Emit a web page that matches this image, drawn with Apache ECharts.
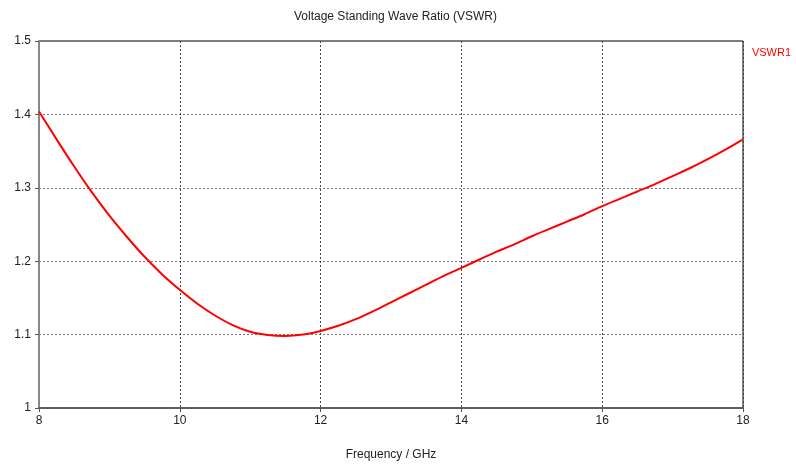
<!DOCTYPE html>
<html>
<head>
<meta charset="utf-8">
<script src="https://cdn.jsdelivr.net/npm/echarts@6/dist/echarts.min.js"></script>
<style>
  html, body { margin: 0; padding: 0; background: #fff; }
  #chart { width: 796px; height: 466px; }
</style>
</head>
<body>
<div id="chart"></div>
<script>
  // frequency points (GHz) and VSWR
  const freq = [8, 8.25, 8.5, 8.75, 9, 9.25, 9.5, 9.75, 10, 10.25, 10.5, 10.75,
    11, 11.25, 11.5, 11.75, 12, 12.25, 12.5, 12.75, 13, 13.25, 13.5, 13.75,
    14, 14.25, 14.5, 14.75, 15, 15.25, 15.5, 15.75, 16, 16.25, 16.5, 16.75,
    17, 17.25, 17.5, 17.75, 18];
  const vswr1 = [1.404, 1.366, 1.329, 1.294, 1.262, 1.233, 1.206, 1.182, 1.161,
    1.142, 1.126, 1.113, 1.104, 1.0995, 1.098, 1.100, 1.105, 1.112, 1.121, 1.132,
    1.144, 1.156, 1.168, 1.180, 1.191, 1.202, 1.213, 1.223, 1.234, 1.244, 1.254,
    1.264, 1.275, 1.285, 1.295, 1.305, 1.316, 1.327, 1.339, 1.352, 1.366];

  const font = 'Liberation Sans, Arial, sans-serif';
  const chart = echarts.init(document.getElementById('chart'));

  const option = {
    animation: false,
    backgroundColor: '#fff',
    title: {
      text: 'Voltage Standing Wave Ratio (VSWR)',
      left: 289,
      top: 6,
      textStyle: { fontFamily: font, fontSize: 12, fontWeight: 'normal', color: '#222' }
    },
    legend: {
      data: ['VSWR1'],
      right: 0,
      top: 41,
      icon: 'none',
      itemWidth: 0,
      textStyle: { fontFamily: font, fontSize: 11, color: '#ff0000' }
    },
    grid: {
      left: 39, right: 53, top: 41, bottom: 56,
      show: true,
      borderColor: '#000',
      borderWidth: 1
    },
    xAxis: {
      type: 'value',
      min: 8, max: 18, interval: 2,
      name: 'Frequency / GHz',
      nameLocation: 'middle',
      nameGap: 41,
      nameTextStyle: { fontFamily: font, fontSize: 12, color: '#222' },
      axisLine: { show: true, lineStyle: { color: '#555', width: 1.5 } },
      axisTick: { show: true, length: 4, lineStyle: { color: '#555' } },
      axisLabel: { fontFamily: font, fontSize: 12, color: '#222', margin: 7 },
      splitLine: { show: true, lineStyle: { color: '#444', type: [2, 2], width: 1 } }
    },
    yAxis: {
      type: 'value',
      min: 1, max: 1.5, interval: 0.1,
      axisLine: { show: true, lineStyle: { color: '#888', width: 2 } },
      axisTick: { show: true, length: 4, lineStyle: { color: '#555' } },
      axisLabel: { fontFamily: font, fontSize: 12, color: '#222', margin: 8 },
      splitLine: { show: true, lineStyle: { color: '#777', type: [2, 2], width: 1 } }
    },
    series: [{
      name: 'VSWR1',
      type: 'line',
      data: freq.map((f, i) => [f, vswr1[i]]),
      smooth: 0.3,
      symbol: 'none',
      lineStyle: { color: '#ff0000', width: 2 },
      itemStyle: { color: '#ff0000' }
    }]
  };
  chart.setOption(option);
</script>
</body>
</html>
